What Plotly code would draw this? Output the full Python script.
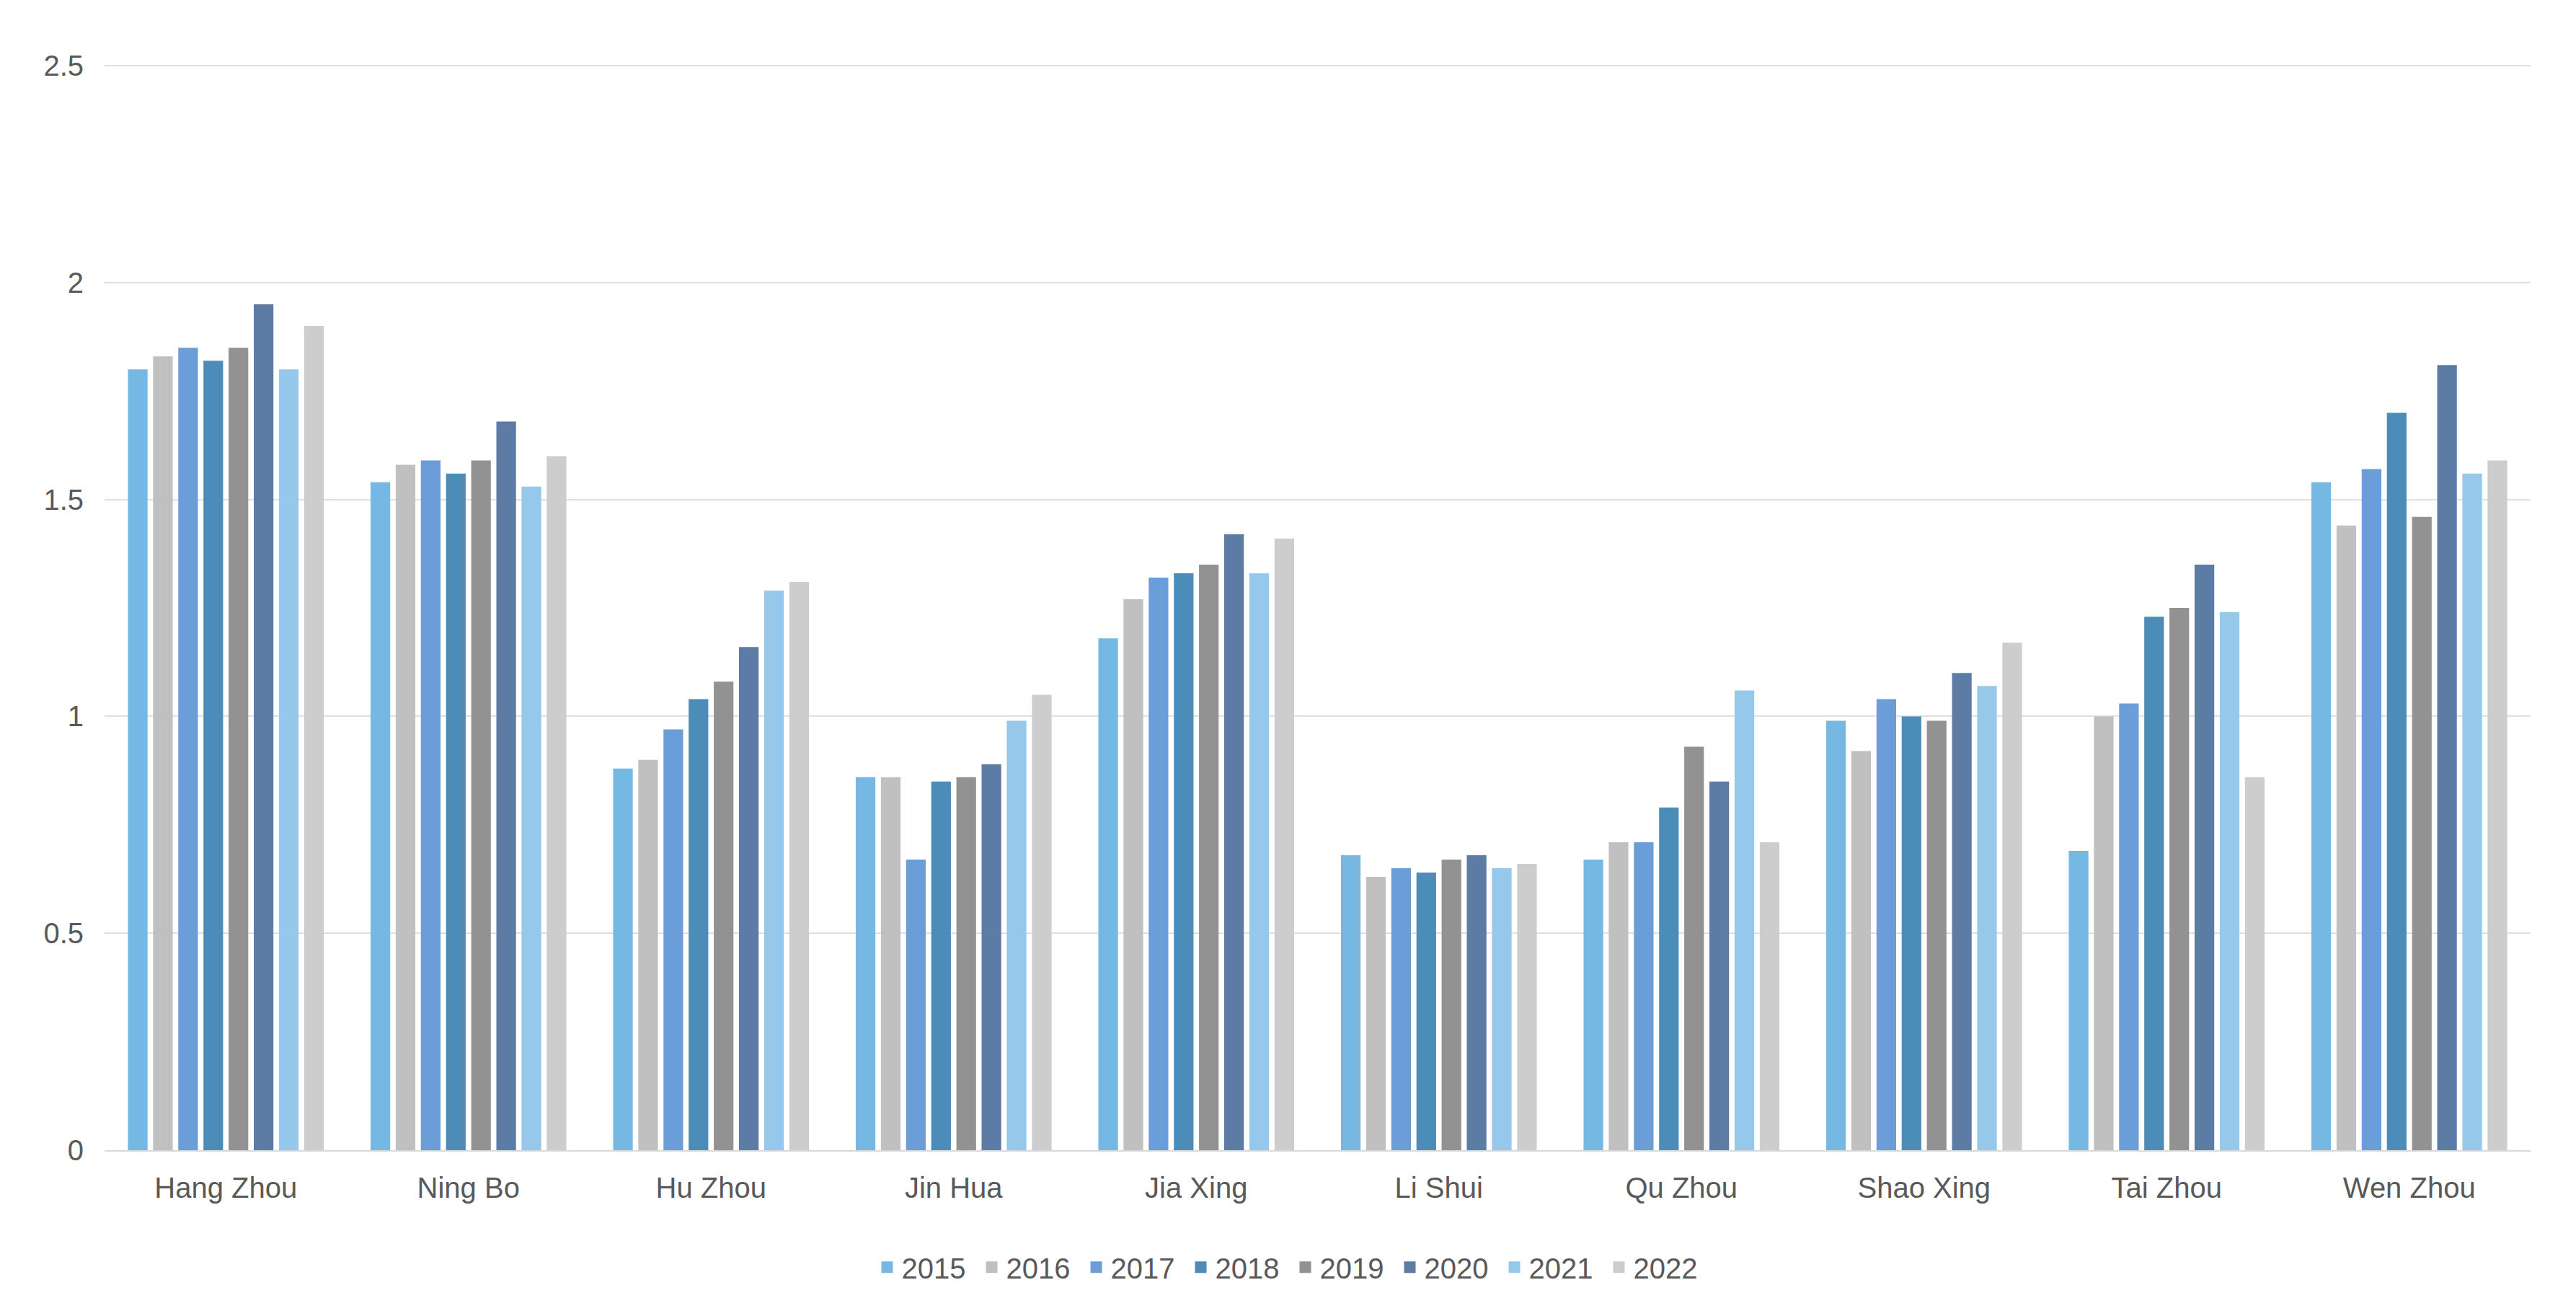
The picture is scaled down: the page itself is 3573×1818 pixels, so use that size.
import plotly.graph_objects as go

cities = ["Hang Zhou", "Ning Bo", "Hu Zhou", "Jin Hua", "Jia Xing",
          "Li Shui", "Qu Zhou", "Shao Xing", "Tai Zhou", "Wen Zhou"]
years = ["2015", "2016", "2017", "2018", "2019", "2020", "2021", "2022"]

v2015 = [1.80, 1.54, 0.88, 0.86, 1.18, 0.68, 0.67, 0.99, 0.69, 1.54]
v2016 = [1.83, 1.58, 0.90, 0.86, 1.27, 0.63, 0.71, 0.92, 1.00, 1.44]
v2017 = [1.85, 1.59, 0.97, 0.67, 1.32, 0.65, 0.71, 1.04, 1.03, 1.57]
v2018 = [1.82, 1.56, 1.04, 0.85, 1.33, 0.64, 0.79, 1.00, 1.23, 1.70]
v2019 = [1.85, 1.59, 1.08, 0.86, 1.35, 0.67, 0.93, 0.99, 1.25, 1.46]
v2020 = [1.95, 1.68, 1.16, 0.89, 1.42, 0.68, 0.85, 1.10, 1.35, 1.81]
v2021 = [1.80, 1.53, 1.29, 0.99, 1.33, 0.65, 1.06, 1.07, 1.24, 1.56]
v2022 = [1.90, 1.60, 1.31, 1.05, 1.41, 0.66, 0.71, 1.17, 0.86, 1.59]

series = [v2015, v2016, v2017, v2018, v2019, v2020, v2021, v2022]
colors = ["#75b8e3", "#c0c0c0", "#6b9dd8", "#4b8db8",
          "#929292", "#5c7ca6", "#95c8ea", "#cdcdcd"]

y_ticks = [0, 0.5, 1, 1.5, 2, 2.5]
y_tick_text = ["0", "0.5", "1", "1.5", "2", "2.5"]

FONT = "Liberation Sans, Arial, sans-serif"
TXT = "#595959"

fig = go.Figure()
for name, vals, col in zip(years, series, colors):
    fig.add_trace(go.Bar(x=cities, y=vals, name=name, legendgroup=name,
                         showlegend=False,
                         marker=dict(color=col, line=dict(width=0))))
# legend entries (larger square swatches)
for name, col in zip(years, colors):
    fig.add_trace(go.Scatter(x=[None], y=[None], name=name, legendgroup=name,
                             mode="markers", showlegend=True, hoverinfo="skip",
                             marker=dict(symbol="square", size=16, color=col,
                                         line=dict(width=0))))

# page body has an 8px margin, so the figure is shrunk/shifted by 8px
fig.update_layout(
    width=3565, height=1810,
    paper_bgcolor="white", plot_bgcolor="white",
    margin=dict(l=137, r=63, t=82, b=223, autoexpand=False),
    barmode="group", bargap=0.17, bargroupgap=0.22,
    font=dict(family=FONT, size=40, color=TXT),
    showlegend=True,
    legend=dict(orientation="h", xref="container", yref="container",
                x=0.5, xanchor="center", y=0.0335, yanchor="middle",
                font=dict(family=FONT, size=40, color=TXT),
                traceorder="normal", itemsizing="trace",
                entrywidth=100, entrywidthmode="pixels"),
)
fig.update_xaxes(showgrid=False, showline=True, linecolor="#d9d9d9", linewidth=2,
                 ticks="", tickfont=dict(family=FONT, size=40, color=TXT),
                 ticklabelstandoff=16)
fig.update_yaxes(range=[0, 2.502], tickvals=y_ticks, ticktext=y_tick_text,
                 showgrid=True, gridcolor="#e0e0e0", gridwidth=2,
                 zeroline=False, showline=False, ticks="",
                 tickfont=dict(family=FONT, size=40, color=TXT),
                 ticklabelstandoff=28)

fig.write_html("out.html")
